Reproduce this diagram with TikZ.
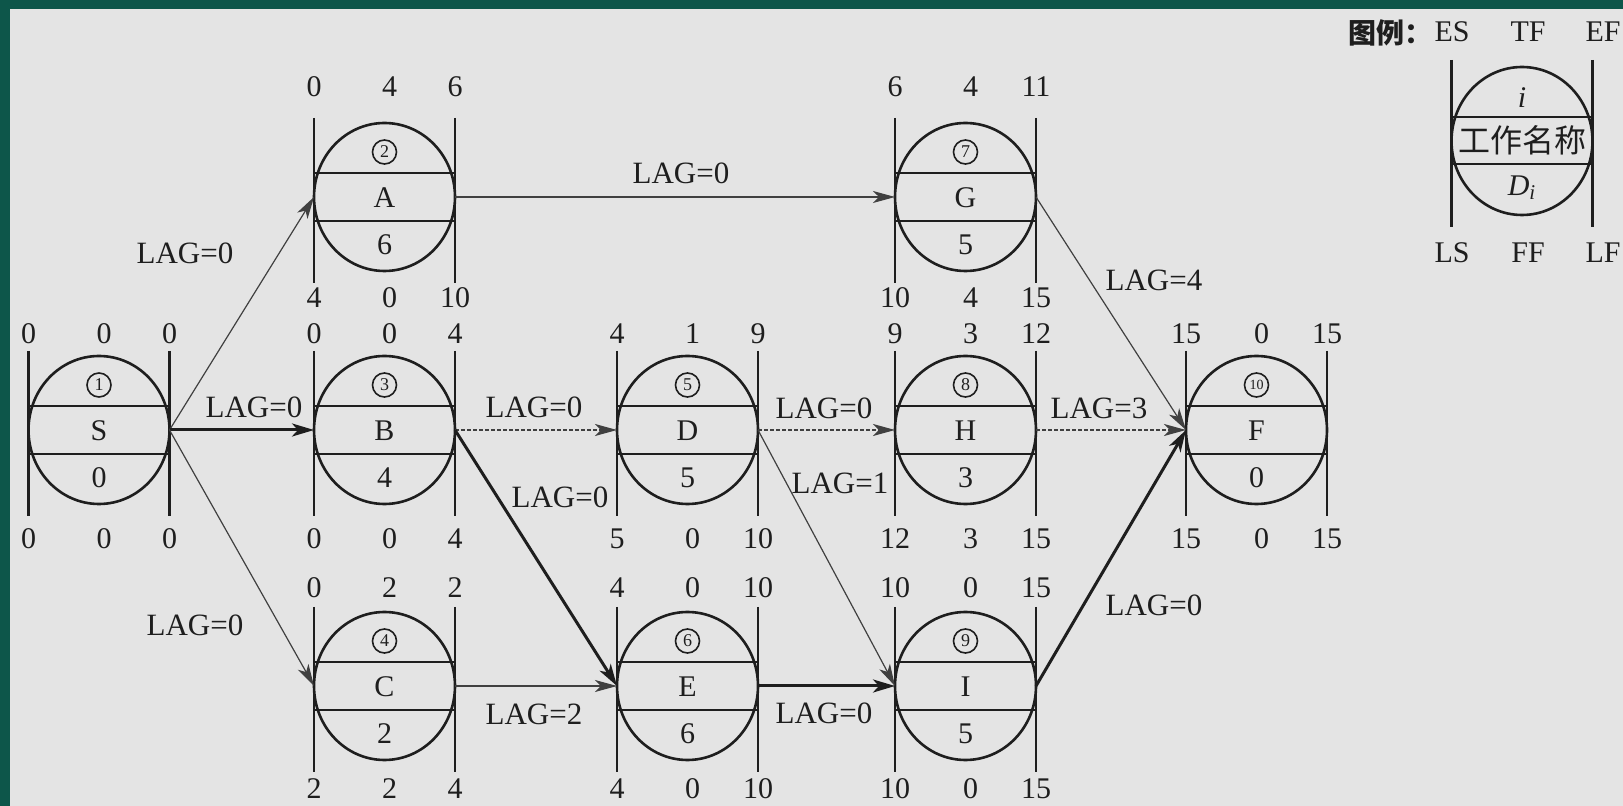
\documentclass[tikz,border=0pt]{standalone}
\usepackage{fontspec}
\setmainfont{Liberation Serif}
\newfontfamily\cjk{Noto Sans CJK SC}
\usetikzlibrary{shapes.geometric,arrows.meta}
\definecolor{bg}{HTML}{E4E4E4}
\definecolor{frameg}{HTML}{0D564A}
\definecolor{ink}{HTML}{1E1E1E}
\tikzset{
  actshape/.style={draw=ink, ellipse, minimum width=70.5pt, minimum height=74pt, inner sep=0pt, outer sep=0pt, line width=1.3pt},
  bar/.style={draw=ink, line width=1.3pt},
  txt/.style={font=\fontsize{15}{15}\selectfont, text=ink, inner sep=0pt},
  lagl/.style={font=\fontsize{15.5}{15.5}\selectfont, text=ink, inner sep=0pt},
  cnum/.style={draw=ink, circle, line width=0.8pt, minimum size=12pt, inner sep=0pt, font=\fontsize{9}{9}\selectfont, text=ink},
  thinarr/.style={draw=ink!85, line width=0.6pt, -{Stealth[length=11pt,width=6pt,inset=3pt]}},
  thickarr/.style={draw=ink, line width=1.5pt, -{Stealth[length=11pt,width=6.5pt,inset=3pt]}},
  dasharr/.style={draw=ink!85, line width=0.8pt, dash pattern=on 2pt off 1pt, -{Stealth[length=11pt,width=6pt,inset=3pt]}},
}
\newcommand\actnode[6]{%
  \node[actshape] (#1) at (#2,#3) {};
  \draw[bar] (#2-70.5,#3-79) -- (#2-70.5,#3+86);
  \draw[bar] (#2+70.5,#3-79) -- (#2+70.5,#3+86);
  \draw[bar] (#2-70.5,#3-24) -- (#2+70.5,#3-24);
  \draw[bar] (#2-70.5,#3+24) -- (#2+70.5,#3+24);
  \node[cnum] (#1-n) at (#2,#3-45) {#4};
  \node[txt] (#1-l) at (#2,#3+1) {#5};
  \node[txt] (#1-d) at (#2,#3+48) {#6};
}
\newcommand\toptimes[6]{%
  \node[txt] (#1-es) at (#2-70.5,#3) {#4};
  \node[txt] (#1-tf) at (#2+5,#3) {#5};
  \node[txt] (#1-ef) at (#2+70.5,#3) {#6};
}
\newcommand\bottimes[6]{%
  \node[txt] (#1-ls) at (#2-70.5,#3) {#4};
  \node[txt] (#1-ff) at (#2+5,#3) {#5};
  \node[txt] (#1-lf) at (#2+70.5,#3) {#6};
}
\begin{document}
\begin{tikzpicture}[x=0.5pt,y=-0.5pt]
\useasboundingbox (0,0) rectangle (1623,806);
\fill[bg] (0,0) rectangle (1623,806);
\fill[frameg] (0,0) rectangle (1623,9);
\fill[frameg] (0,0) rectangle (10,806);

% activities
\actnode{S}{99}{430}{1}{S}{0}
\toptimes{S}{99}{334}{0}{0}{0}
\bottimes{S}{99}{539}{0}{0}{0}

\actnode{A}{384.5}{197}{2}{A}{6}
\toptimes{A}{384.5}{87}{0}{4}{6}
\bottimes{A}{384.5}{298}{4}{0}{10}

\actnode{B}{384.5}{430}{3}{B}{4}
\toptimes{B}{384.5}{334}{0}{0}{4}
\bottimes{B}{384.5}{539}{0}{0}{4}

\actnode{C}{384.5}{686}{4}{C}{2}
\toptimes{C}{384.5}{588}{0}{2}{2}
\bottimes{C}{384.5}{789}{2}{2}{4}

\actnode{D}{687.5}{430}{5}{D}{5}
\toptimes{D}{687.5}{334}{4}{1}{9}
\bottimes{D}{687.5}{539}{5}{0}{10}

\actnode{E}{687.5}{686}{6}{E}{6}
\toptimes{E}{687.5}{588}{4}{0}{10}
\bottimes{E}{687.5}{789}{4}{0}{10}

\actnode{G}{965.5}{197}{7}{G}{5}
\toptimes{G}{965.5}{87}{6}{4}{11}
\bottimes{G}{965.5}{298}{10}{4}{15}

\actnode{H}{965.5}{430}{8}{H}{3}
\toptimes{H}{965.5}{334}{9}{3}{12}
\bottimes{H}{965.5}{539}{12}{3}{15}

\actnode{I}{965.5}{686}{9}{I}{5}
\toptimes{I}{965.5}{588}{10}{0}{15}
\bottimes{I}{965.5}{789}{10}{0}{15}

\actnode{F}{1256.5}{430}{{\fontsize{7}{7}\selectfont 10}}{F}{0}
\toptimes{F}{1256.5}{334}{15}{0}{15}
\bottimes{F}{1256.5}{539}{15}{0}{15}

% connectors
\draw[thinarr] (S.east) -- (A.west);
\draw[thickarr] (S.east) -- (B.west);
\draw[thinarr] (S.east) -- (C.west);
\draw[thinarr] (A.east) -- (G.west);
\draw[dasharr] (B.east) -- (D.west);
\draw[thickarr] (B.east) -- (E.west);
\draw[thinarr] (C.east) -- (E.west);
\draw[dasharr] (D.east) -- (H.west);
\draw[thinarr] (D.east) -- (I.west);
\draw[thickarr] (E.east) -- (I.west);
\draw[thinarr] (G.east) -- (F.west);
\draw[dasharr] (H.east) -- (F.west);
\draw[thickarr] (I.east) -- (F.west);

% lag labels
\node[lagl] (lagSA) at (185,253) {LAG=0};
\node[lagl] (lagSB) at (254,407) {LAG=0};
\node[lagl] (lagSC) at (195,625) {LAG=0};
\node[lagl] (lagAG) at (681,173) {LAG=0};
\node[lagl] (lagBD) at (534,407) {LAG=0};
\node[lagl] (lagBE) at (560,497) {LAG=0};
\node[lagl] (lagCE) at (534,714) {LAG=2};
\node[lagl] (lagDH) at (824,408) {LAG=0};
\node[lagl] (lagDI) at (840,483) {LAG=1};
\node[lagl] (lagEI) at (824,713) {LAG=0};
\node[lagl] (lagGF) at (1154,280) {LAG=4};
\node[lagl] (lagHF) at (1099,408) {LAG=3};
\node[lagl] (lagIF) at (1154,605) {LAG=0};

% legend
\node[actshape] (leg) at (1522,141) {};
\draw[bar] (1451.5,60) -- (1451.5,227);
\draw[bar] (1592.5,60) -- (1592.5,227);
\draw[bar] (1451.5,117) -- (1592.5,117);
\draw[bar] (1451.5,164) -- (1592.5,164);
\node[txt] (leg-i) at (1522,98) {\textit{i}};
\node[txt, font=\cjk\fontsize{16}{16}\selectfont] (leg-name) at (1522,140) {工作名称};
\node[txt] (leg-d) at (1522,188) {\textit{D}\textsubscript{\textit{i}}};
\node[txt, font=\cjk\bfseries\fontsize{14}{14}\selectfont, anchor=west] (leg-title) at (1348,33) {图例：};
\node[txt] (leg-es) at (1452,32) {ES};
\node[txt] (leg-tf) at (1528,32) {TF};
\node[txt] (leg-ef) at (1603,32) {EF};
\node[txt] (leg-ls) at (1452,253) {LS};
\node[txt] (leg-ff) at (1528,253) {FF};
\node[txt] (leg-lf) at (1603,253) {LF};
\end{tikzpicture}
\end{document}
